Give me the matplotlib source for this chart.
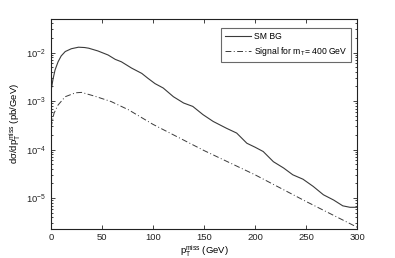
import matplotlib
matplotlib.use('Agg')
import matplotlib.pyplot as plt
from matplotlib.ticker import LogLocator, NullFormatter

plt.rcParams['font.family'] = ['Liberation Sans', 'DejaVu Sans']
plt.rcParams['mathtext.fontset'] = 'custom'
plt.rcParams['mathtext.rm'] = 'Liberation Sans'
plt.rcParams['mathtext.it'] = 'Liberation Sans'

# ── data ──────────────────────────────────────────────────────
bg_pt = [0, 2, 4, 7, 10, 14, 20, 27, 33, 37, 46, 56, 63, 69, 79, 89, 95,
         102, 110, 120, 130, 139, 149, 159, 172, 182, 192, 200, 208, 218,
         228, 237, 247, 257, 267, 277, 286, 293, 300]
bg_val = [1.58e-3, 2.82e-3, 4.37e-3, 6.46e-3, 8.51e-3, 1.05e-2, 1.20e-2,
          1.29e-2, 1.27e-2, 1.23e-2, 1.08e-2, 8.91e-3, 7.24e-3, 6.46e-3,
          4.79e-3, 3.72e-3, 2.95e-3, 2.29e-3, 1.86e-3, 1.23e-3, 9.12e-4,
          7.76e-4, 5.25e-4, 3.80e-4, 2.75e-4, 2.19e-4, 1.35e-4, 1.12e-4,
          9.12e-5, 5.62e-5, 4.17e-5, 3.02e-5, 2.45e-5, 1.74e-5, 1.17e-5,
          9.12e-6, 6.92e-6, 6.46e-6, 6.46e-6]

sig_pt = [0, 1.5, 3, 7, 14, 24, 30, 43, 59, 76, 100, 150, 200, 250, 300]
sig_val = [2.82e-4, 3.98e-4, 5.62e-4, 8.32e-4, 1.23e-3, 1.48e-3, 1.51e-3,
           1.26e-3, 9.77e-4, 6.61e-4, 3.31e-4, 9.55e-5, 3.02e-5, 8.51e-6,
           2.51e-6]

x_ticks = [0, 50, 100, 150, 200, 250, 300]

INK = '#3a3a3a'

fig = plt.figure(figsize=(3.95, 2.58), dpi=100)
ax = fig.add_axes([0.129, 0.114, 0.775, 0.812])

ax.plot(bg_pt, bg_val, color=INK, lw=0.8, label='SM BG')
ax.plot(sig_pt, sig_val, color=INK, lw=0.7, linestyle=(0, (6, 2.5, 1, 2.5)),
        label=r'Signal for m$_{T}$= 400 GeV')

ax.set_yscale('log')
ax.set_xlim(0, 300)
ax.set_ylim(2.35e-6, 4.9e-2)
ax.set_xticks(x_ticks)
ax.yaxis.set_major_locator(LogLocator(base=10, numticks=10))
ax.yaxis.set_minor_locator(LogLocator(base=10, subs=range(2, 10), numticks=20))
ax.yaxis.set_minor_formatter(NullFormatter())

ax.tick_params(axis='both', which='both', direction='in', top=True, right=True,
               labelsize=6.8, colors='#222222', width=0.6)
ax.tick_params(which='major', length=3)
ax.tick_params(which='minor', length=1.6)
for s in ax.spines.values():
    s.set_linewidth(0.8)
    s.set_color('#222222')

ax.set_xlabel(r'p$_T^{miss}$ (GeV)', fontsize=6.8, labelpad=1)
ax.set_ylabel(r'd$\sigma$/dp$_T^{miss}$ (pb/GeV)', fontsize=6.8, labelpad=2)

leg = ax.legend(loc='upper right', fontsize=6.2, frameon=True, fancybox=False,
                edgecolor='#444444', handlelength=3.0, borderpad=0.45,
                labelspacing=0.5, handletextpad=0.3, borderaxespad=0,
                bbox_to_anchor=(0.98, 0.957))
leg.get_frame().set_linewidth(0.8)

plt.savefig('out.png', dpi=100, facecolor='white')
plt.close()
